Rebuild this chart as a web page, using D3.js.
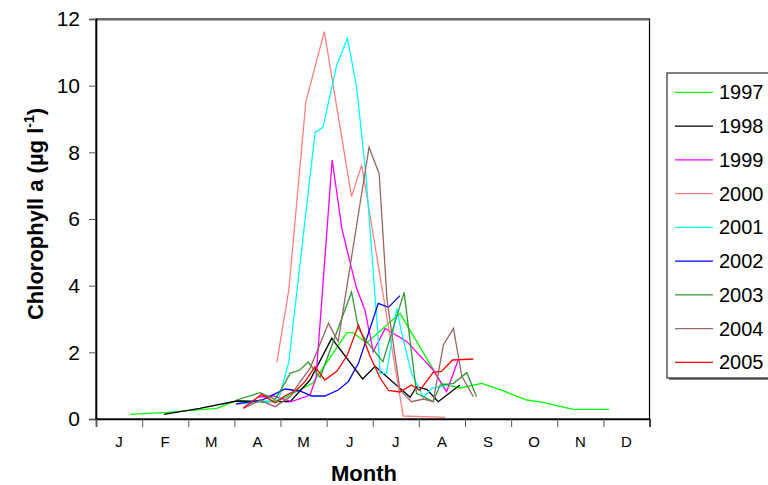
<!DOCTYPE html>
<html>
<head>
<meta charset="utf-8">
<script src="https://cdn.jsdelivr.net/npm/d3@7"></script>
<style>
  body { margin: 0; background: #fff; }
  svg { display: block; font-family: "Liberation Sans", Arial, sans-serif; }
</style>
</head>
<body>
<div id="chart"></div>
<script>
// month position (0 = 1 Jan, 1 = 1 Feb ...) and chlorophyll a value
const s1997 = [[0.74,0.14],[1.53,0.2],[2.62,0.32],[3.05,0.56],[3.6,0.51],[3.99,0.57],[4.7,1.08],[5.44,2.59],[5.57,2.59],[5.87,2.28],[6.59,3.17],[7.49,1.07],[7.89,0.93],[8.36,1.07],[8.82,0.85],[9.34,0.57],[9.69,0.5],[10.34,0.29],[11.12,0.29]];
const s1998 = [[1.47,0.14],[2.25,0.32],[3.05,0.54],[3.6,0.52],[4.21,0.52],[4.64,1.17],[5.11,2.42],[5.78,1.2],[6.05,1.58],[6.81,0.65],[6.95,0.97],[7.17,0.89],[7.42,0.52],[7.89,1.02]];
const s1999 = [[3.51,0.66],[3.84,0.69],[4.24,0.52],[4.64,0.72],[4.77,1.23],[5.12,7.77],[5.33,5.72],[5.54,4.52],[5.65,3.92],[5.83,3.27],[6.01,2.02],[6.27,2.72],[6.74,2.32],[7.31,1.47],[7.6,0.82],[7.85,1.76]];
const s2000 = [[3.92,1.7],[4.18,3.87],[4.55,9.52],[4.95,11.62],[5.54,6.67],[5.76,7.62],[6.66,0.09],[7.57,0.05]];
const s2001 = [[3.23,0.45],[3.6,0.54],[3.95,0.52],[4.18,1.71],[4.75,8.6],[4.92,8.75],[5.22,10.62],[5.45,11.42],[5.65,9.97],[5.86,7.2],[6.12,2.37],[6.16,1.37],[6.3,1.37],[6.52,3.32],[6.63,2.57],[6.84,1.37],[7.1,0.65],[7.28,0.92],[7.6,1.02]];
const s2002 = [[3.04,0.45],[3.6,0.57],[4.1,0.9],[4.42,0.84],[4.68,0.69],[4.96,0.69],[5.25,0.87],[5.47,1.12],[5.69,1.67],[6.12,3.47],[6.34,3.35],[6.59,3.7]];
const s2003 = [[3.05,0.57],[3.56,0.79],[3.88,0.59],[4.03,0.92],[4.21,1.37],[4.42,1.47],[4.6,1.71],[4.86,1.25],[5.54,3.81],[5.69,2.72],[5.87,2.32],[6.22,1.72],[6.68,3.8],[6.95,0.77],[7.31,0.52],[7.46,1.02],[7.75,1.07],[8.04,1.39],[8.25,0.67]];
const s2004 = [[3.19,0.32],[3.56,0.56],[3.88,0.37],[4.21,0.67],[4.42,1.11],[4.64,1.52],[5.04,2.87],[5.25,2.32],[5.72,6.42],[5.92,8.15],[6.14,7.35],[6.31,3.57],[6.59,0.87],[6.84,0.52],[7.1,0.6],[7.31,0.52],[7.53,2.22],[7.75,2.72],[7.93,1.29],[8.18,0.67]];
const s2005 = [[3.19,0.32],[3.59,0.74],[3.88,0.49],[4.13,0.72],[4.35,0.87],[4.53,1.12],[4.75,1.57],[4.96,1.17],[5.22,1.43],[5.44,1.89],[5.69,2.82],[5.94,1.89],[6.16,1.23],[6.34,0.86],[6.59,0.81],[6.84,1.02],[7.02,0.86],[7.31,1.4],[7.49,1.43],[7.73,1.77],[8.18,1.8]];

const years = ['1997','1998','1999','2000','2001','2002','2003','2004','2005'];
const seriesData = [s1997, s1998, s1999, s2000, s2001, s2002, s2003, s2004, s2005];
const colors = ['#00ff00','#000000','#ff00ff','#ff8080','#00ffff','#0000ff','#339933','#996666','#ff0000'];

const monthLabels = ['J','F','M','A','M','J','J','A','S','O','N','D'];
const yTicks = [0, 2, 4, 6, 8, 10, 12];

const width = 768, height = 485;
const plot = { left: 96, top: 19, right: 649.5, bottom: 419 };

const svg = d3.select('#chart').append('svg')
  .attr('width', width)
  .attr('height', height);

const x = d3.scaleLinear().domain([0, 12]).range([plot.left, plot.right]);
const y = d3.scaleLinear().domain([0, 12]).range([plot.bottom, plot.top]);

// plot frame
svg.append('rect')
  .attr('x', plot.left).attr('y', plot.top)
  .attr('width', plot.right - plot.left).attr('height', plot.bottom - plot.top)
  .attr('fill', 'none').attr('stroke', '#000').attr('stroke-width', 1.2);
svg.append('line')
  .attr('x1', plot.left).attr('x2', plot.right)
  .attr('y1', plot.top + 1.3).attr('y2', plot.top + 1.3)
  .attr('stroke', '#999');

// y axis
const yAxis = svg.append('g')
  .attr('transform', `translate(${plot.left},0)`)
  .call(d3.axisLeft(y).tickValues(yTicks).tickSize(7).tickPadding(9));
yAxis.select('.domain').attr('stroke', '#000').attr('stroke-width', 1.6);
yAxis.selectAll('.tick line').attr('stroke', '#555');
yAxis.selectAll('.tick text').attr('font-size', 21).attr('fill', '#000')
  .attr('font-family', '"Liberation Sans", Arial, sans-serif');

// x axis: ticks at month boundaries, labels in the middle of each month
const xAxis = svg.append('g')
  .attr('transform', `translate(0,${plot.bottom})`)
  .call(d3.axisBottom(x).tickValues(d3.range(0, 13)).tickSize(8).tickFormat(''));
xAxis.select('.domain').attr('stroke', '#000').attr('stroke-width', 1.6);
xAxis.selectAll('.tick line').attr('stroke', '#555');

svg.append('g').selectAll('text')
  .data(monthLabels)
  .join('text')
  .attr('x', (d, i) => x(i + 0.5))
  .attr('y', 447)
  .attr('text-anchor', 'middle')
  .attr('font-size', 15)
  .text(d => d);

// series lines
const line = d3.line().x(d => x(d[0])).y(d => y(d[1]));
seriesData.forEach((s, i) => {
  svg.append('path')
    .datum(s)
    .attr('fill', 'none')
    .attr('stroke', colors[i])
    .attr('stroke-width', 1.3)
    .attr('d', line);
});

// axis titles
svg.append('text')
  .attr('x', 364).attr('y', 481)
  .attr('text-anchor', 'middle')
  .attr('font-size', 22).attr('font-weight', 'bold')
  .text('Month');

const yTitle = svg.append('text')
  .attr('transform', 'translate(43,214) rotate(-90)')
  .attr('text-anchor', 'middle')
  .attr('font-size', 22).attr('font-weight', 'bold');
yTitle.append('tspan').text('Chlorophyll a (µg l');
yTitle.append('tspan').attr('dy', -9).attr('font-size', 14).text('-1');
yTitle.append('tspan').attr('dy', 9).text(')');

// legend
const lg = svg.append('g').attr('transform', 'translate(667,73)');
lg.append('rect').attr('x', 2).attr('y', 2).attr('width', 130).attr('height', 305).attr('fill', '#888');
lg.append('rect').attr('width', 130).attr('height', 305)
  .attr('fill', '#fff').attr('stroke', '#000').attr('stroke-width', 1);
const items = lg.selectAll('g.item')
  .data(years)
  .join('g')
  .attr('class', 'item')
  .attr('transform', (d, i) => `translate(0,${19.3 + i * 33.75})`);
items.append('line')
  .attr('x1', 8).attr('x2', 46)
  .attr('stroke', (d, i) => colors[i]).attr('stroke-width', 1.3);
items.append('text')
  .attr('x', 52).attr('dy', '0.35em')
  .attr('font-size', 20)
  .text(d => d);
</script>
</body>
</html>
